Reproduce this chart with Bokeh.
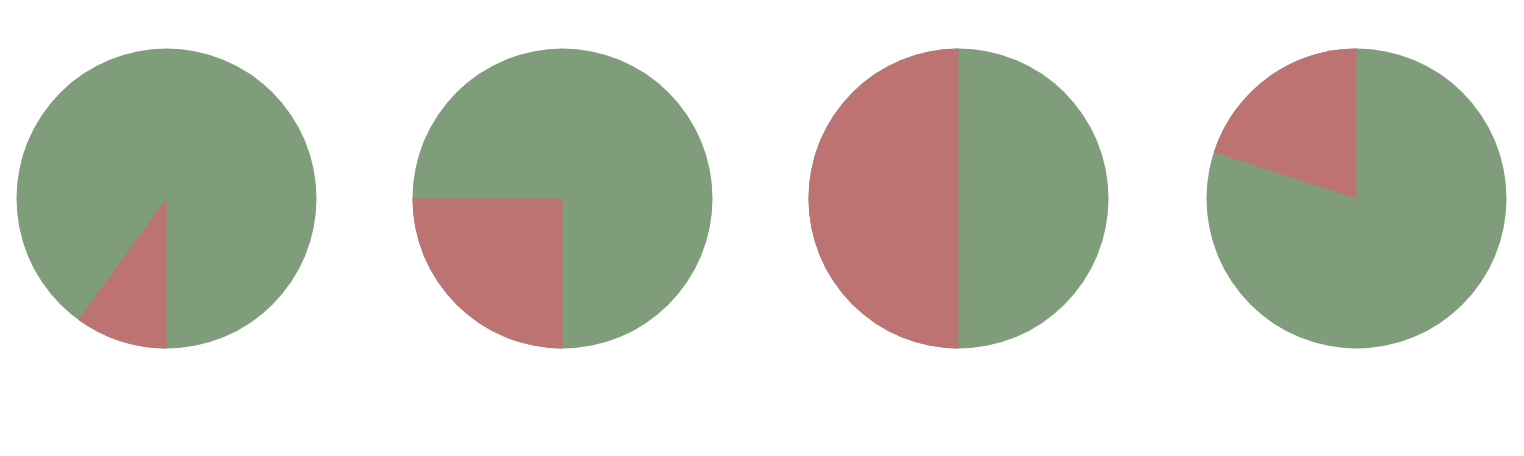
import numpy as np
from bokeh.embed import file_html
from bokeh.models import ColumnDataSource, Range1d
from bokeh.plotting import figure
from bokeh.resources import INLINE

# Data - share (%) of the red slice in each pie; green is the remainder
red_share = [10, 25, 50, 20]
green_share = [100 - v for v in red_share]
# where the red slice starts, degrees clockwise from 12 o'clock
red_start = [180, 180, 180, 288]

GREEN = "#7f9d7b"
RED = "#bc7371"

# Layout in page pixels
W, H = 1508, 440
cx = [166, 562, 958, 1356]
cy_page = 198
radius = 150

p = figure(
    width=W,
    height=H,
    x_range=Range1d(0, W),
    y_range=Range1d(0, H),
    output_backend="svg",
    toolbar_location=None,
    min_border=0,
)
p.axis.visible = False
p.grid.visible = False
p.outline_line_color = None
p.background_fill_color = "white"
p.border_fill_color = "white"

# convert clockwise-from-top to bokeh angles (counter-clockwise from +x)
rs = np.array(red_start, dtype=float)
rd = np.array(red_share, dtype=float) * 3.6
red_end_b = np.radians(90 - rs)
red_start_b = np.radians(90 - rs - rd)
green_start_b = red_end_b
green_end_b = red_start_b + 2 * np.pi

y = [H - cy_page] * len(cx)

green_src = ColumnDataSource(data={"x": cx, "y": y, "start": green_start_b, "end": green_end_b,
                                   "share": green_share})
red_src = ColumnDataSource(data={"x": cx, "y": y, "start": red_start_b, "end": red_end_b,
                                 "share": red_share})

# green background disc, red slice on top
p.circle(x="x", y="y", radius=radius, source=green_src, fill_color=GREEN, line_color=None)
p.wedge(x="x", y="y", radius=radius, start_angle="start", end_angle="end", source=red_src,
        fill_color=RED, line_color=None)

open("out.html", "w").write(file_html(p, INLINE))
